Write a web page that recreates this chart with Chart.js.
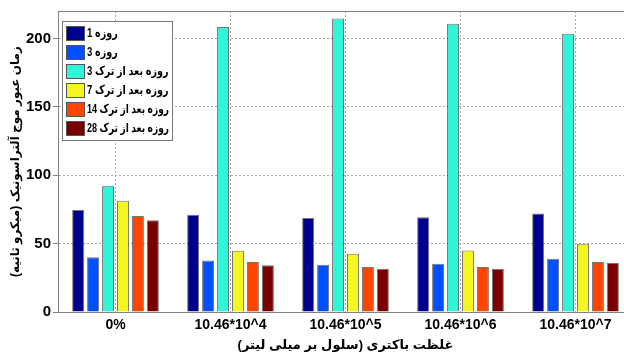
<!DOCTYPE html>
<html>
<head>
<meta charset="utf-8">
<script src="https://cdn.jsdelivr.net/npm/chart.js@4"></script>
<style>
  html, body { margin: 0; padding: 0; background: #fff; overflow: hidden; }
  #wrap { width: 633px; height: 358px; }
</style>
</head>
<body>
<div id="wrap"><canvas id="chart" width="633" height="358"></canvas></div>
<script>
// categories and series
const categories = ['0%', '10.46*10^4', '10.46*10^5', '10.46*10^6', '10.46*10^7'];
const seriesNames = ['روزه 1', 'روزه 3', 'روزه بعد از ترک 3', 'روزه بعد از ترک 7', 'روزه بعد از ترک 14', 'روزه بعد از ترک 28'];
const day1 = [74.5, 71, 68.7, 69.2, 72];
const day3 = [40, 37.7, 34.6, 35.3, 39];
const after3 = [92.2, 208.3, 214.5, 210.7, 203.3];
const after7 = [81.3, 44.8, 42.6, 45, 49.9];
const after14 = [70.2, 36.5, 32.9, 32.9, 36.5];
const after28 = [67, 34.1, 31.7, 31.7, 35.8];
const yTicks = [0, 50, 100, 150, 200];
const colors = ['#00008f', '#0050ff', '#30f5d8', '#f5f520', '#ff4500', '#7a0000'];

const FONT = "'Liberation Sans', 'DejaVu Sans', sans-serif";
const seriesValues = [day1, day3, after3, after7, after14, after28];

const datasets = seriesValues.map((vals, i) => ({
    label: seriesNames[i],
    data: vals,
    backgroundColor: colors[i],
    borderColor: 'rgba(0,0,0,0.55)',
    borderWidth: 1,
    borderSkipped: 'bottom',
    categoryPercentage: 0.78,
    barPercentage: 0.8
}));

// legend box drawn in the top left of the plot, matlab style
const boxLegend = {
    id: 'boxLegend',
    afterDraw(chart) {
        const ctx = chart.ctx;
        const x = 62, y = 21, w = 110, h = 119;
        ctx.save();
        ctx.fillStyle = '#fff';
        ctx.fillRect(x, y, w, h);
        ctx.strokeStyle = '#777';
        ctx.lineWidth = 1;
        ctx.strokeRect(x + 0.5, y + 0.5, w, h);
        ctx.font = "bold 12px " + FONT;
        ctx.textBaseline = 'middle';
        ctx.textAlign = 'left';
        chart.data.datasets.forEach((ds, i) => {
            const cy = y + 12 + i * 19;
            ctx.fillStyle = ds.backgroundColor;
            ctx.fillRect(x + 4, cy - 7, 18, 14);
            ctx.strokeStyle = '#555';
            ctx.strokeRect(x + 4.5, cy - 6.5, 18, 14);
            ctx.fillStyle = '#000';
            const tw = Math.min(ctx.measureText(ds.label).width * 0.8, 82);
            ctx.fillText(ds.label, x + 25, cy + 1, tw);
        });
        // top frame line
        const a = chart.chartArea;
        ctx.strokeStyle = '#808080';
        ctx.beginPath();
        ctx.moveTo(a.left, a.top + 0.5);
        ctx.lineTo(a.right, a.top + 0.5);
        ctx.stroke();
        ctx.restore();
    }
};

new Chart(document.getElementById('chart').getContext('2d'), {
    type: 'bar',
    data: { labels: categories, datasets: datasets },
    options: {
        responsive: false,
        animation: false,
        layout: { padding: { top: 10, right: 0, left: 0, bottom: 0 } },
        plugins: {
            legend: { display: false },
            tooltip: { enabled: false }
        },
        scales: {
            x: {
                offset: true,
                grid: {
                    offset: false,
                    color: '#a8a8a8',
                    drawTicks: false
                },
                border: { color: '#808080', dash: [2, 2] },
                ticks: {
                    padding: 5,
                    color: '#000',
                    font: { family: FONT, size: 14, weight: 'bold' }
                },
                title: {
                    display: true,
                    text: 'غلظت باکتری (سلول بر میلی لیتر)',
                    color: '#000',
                    font: { family: FONT, size: 13, weight: 'bold' },
                    padding: { top: 0, bottom: 5 }
                },
                afterFit: s => { s.height = 46; }
            },
            y: {
                min: 0,
                max: 220,
                grid: {
                    color: '#a8a8a8',
                    tickLength: 5,
                    tickColor: '#808080'
                },
                border: { color: '#808080', dash: [2, 2] },
                ticks: {
                    stepSize: 50,
                    padding: 2,
                    color: '#000',
                    font: { family: FONT, size: 15, weight: 'bold' }
                },
                afterBuildTicks: s => { s.ticks = yTicks.map(v => ({ value: v })); },
                title: {
                    display: true,
                    text: 'زمان عبور موج آلتراسونیک (میکرو ثانیه)',
                    color: '#000',
                    font: { family: FONT, size: 12, weight: 'bold' },
                    padding: { top: 8, bottom: 0 }
                },
                afterFit: s => { s.width = 58; }
            }
        }
    },
    plugins: [boxLegend]
});
</script>
</body>
</html>
